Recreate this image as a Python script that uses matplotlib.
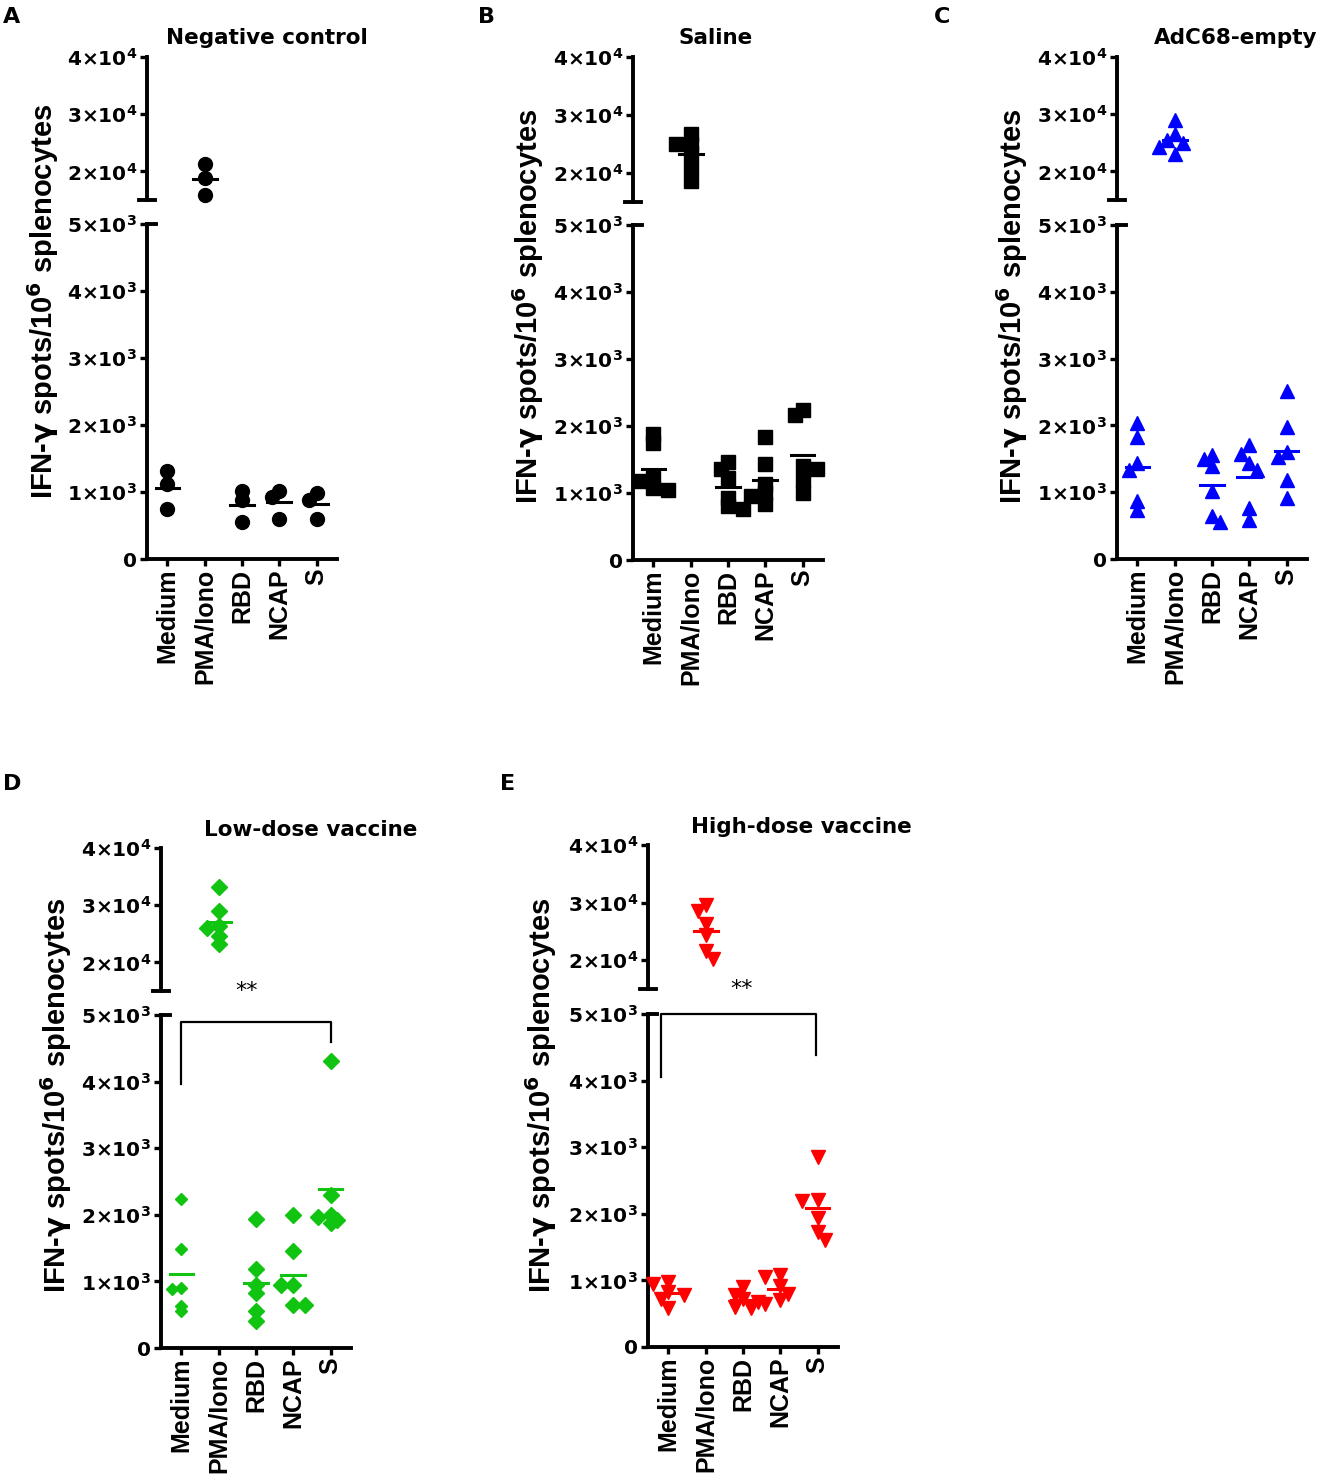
import numpy as np
import matplotlib
matplotlib.use("Agg")
import matplotlib.pyplot as plt
from matplotlib.lines import Line2D

plt.rcParams["mathtext.fontset"] = "dejavusans"
plt.rcParams["mathtext.default"] = "bf"

# Datos (spots / 10^6 esplenocitos)
categories = ["Medium", "PMA/Iono", "RBD", "NCAP", "S"]

neg_control = [[1310, 1120, 750],
               [21300, 18900, 15900],
               [1010, 880, 550],
               [1020, 920, 600],
               [980, 880, 600]]

saline = [[1880, 1750, 1220, 1180, 1080, 1050],
          [26700, 25000, 25000, 23500, 21000, 18700],
          [1460, 1360, 1220, 930, 800, 760],
          [1830, 1430, 1130, 1000, 950, 830],
          [2240, 2160, 1400, 1360, 1200, 1000]]

adc68_empty = [[2030, 1830, 1430, 1330, 870, 730],
               [28900, 26500, 25500, 25000, 24300, 23000],
               [1560, 1490, 1390, 1020, 650, 560],
               [1700, 1570, 1430, 1330, 760, 590],
               [2510, 1970, 1600, 1530, 1180, 910]]

low_dose = [[2230, 1480, 900, 890, 630, 550],
            [33200, 28900, 26400, 26000, 24600, 23200],
            [1940, 1190, 940, 830, 560, 400],
            [2000, 1460, 940, 940, 640, 640],
            [4310, 2300, 1990, 1960, 1920, 1870]]

high_dose = [[970, 950, 820, 780, 720, 580],
             [29500, 28500, 26300, 24400, 21600, 20200],
             [900, 780, 720, 680, 600, 580],
             [1080, 1050, 920, 800, 700, 650],
             [2860, 2210, 2190, 1940, 1720, 1600]]

# Figura en pixeles
W, H = 1320, 1482
fig = plt.figure(figsize=(W / 100, H / 100), dpi=100)


def fx(px):
    return px / W


def fy(py):
    return 1 - py / H


XLIM = (-0.55, 4.55)
AX_W = 190
PX_PER_CAT = AX_W / (XLIM[1] - XLIM[0])
BREAK = 15000


def swarm(vals, ppu, d):
    # desplazamientos en x tipo "beeswarm", alternando izquierda/derecha
    order = np.argsort(vals)[::-1]
    placed = []
    offs = np.zeros(len(vals))
    side = -1
    for i in order:
        yp = vals[i] * ppu
        xp = 0.0
        for k in [0, side, -side, 2 * side, -2 * side]:
            xp = k * 0.55 * d
            if all((xp - a) ** 2 + (yp - b) ** 2 >= (0.62 * d) ** 2 for a, b in placed):
                break
        if xp != 0:
            side = -side
        placed.append((xp, yp))
        offs[i] = xp / PX_PER_CAT
    return offs


def style_axis(ax):
    for s in ["top", "right"]:
        ax.spines[s].set_visible(False)
    ax.spines["left"].set_linewidth(2.8)
    ax.spines["bottom"].set_linewidth(2.8)
    ax.tick_params(axis="both", direction="out", length=5, width=2.4, pad=2)
    ax.set_xlim(*XLIM)


def panel(letter, title, groups, color, marker, ms, lay, ms_first=None, bracket=None):
    sp, top, brk, ltop, zero = lay["spine"], lay["top"], lay["brk"], lay["ltop"], lay["zero"]
    ax_t = fig.add_axes([fx(sp), fy(brk), AX_W / W, (brk - top) / H])
    ax_b = fig.add_axes([fx(sp), fy(zero), AX_W / W, (zero - ltop) / H])
    for ax in (ax_t, ax_b):
        style_axis(ax)
        ax.patch.set_alpha(0)
    ax_t.spines["bottom"].set_visible(False)
    ax_t.set_xticks([])
    ax_t.set_ylim(BREAK, 40000)
    ax_b.set_ylim(0, 5000)

    ax_t.set_yticks([20000, 30000, 40000])
    ax_t.set_yticklabels(["2×10$^{4}$", "3×10$^{4}$", "4×10$^{4}$"],
                         family="DejaVu Sans", fontweight="bold", fontsize=14.5)
    ax_b.set_yticks([0, 1000, 2000, 3000, 4000, 5000])
    ax_b.set_yticklabels(["0"] + ["%d×10$^{3}$" % k for k in range(1, 6)],
                         family="DejaVu Sans", fontweight="bold", fontsize=14.5)
    ax_b.set_xticks(range(len(categories)))
    ax_b.set_xticklabels(categories, rotation=90, family="Liberation Sans",
                         fontweight="bold", fontsize=18)

    ppu_t = (brk - top) / (40000 - BREAK)
    ppu_b = (zero - ltop) / 5000
    for i, g in enumerate(groups):
        vals = np.array(g, dtype=float)
        size = ms_first if (ms_first is not None and i == 0) else ms
        d = size * 1.39
        for ax, mask, ppu in ((ax_t, vals >= BREAK, ppu_t), (ax_b, vals < BREAK, ppu_b)):
            if mask.sum() == 0:
                continue
            v = vals[mask]
            offs = swarm(v, ppu, d)
            ax.plot(i + offs, v, ls="none", marker=marker, ms=size, color=color,
                    mec=color, clip_on=False, zorder=3)
        m = vals.mean()
        axm = ax_t if m >= BREAK else ax_b
        axm.plot([i - 0.32, i + 0.32], [m, m], color=color, lw=2.2,
                 clip_on=False, zorder=4)

    # marcas del corte del eje
    fig.add_artist(Line2D([fx(sp - 8), fx(sp + 8)], [fy(brk), fy(brk)], color="k", lw=2.8))
    fig.add_artist(Line2D([fx(sp), fx(sp + 9)], [fy(ltop), fy(ltop)], color="k", lw=2.8))

    if bracket is not None:
        x0, x1, ybar, yl, yr, sx, sy = bracket
        ax_b.plot([x0, x0, x1, x1], [yl, ybar, ybar, yr], color="k", lw=1.6,
                  clip_on=False)
        ax_b.text(sx, sy, "**", ha="center", va="center", fontsize=16,
                  family="DejaVu Sans", clip_on=False)

    fig.text(fx(lay["tx"]), fy(lay["ty"]), title, ha="center", va="center",
             family="DejaVu Sans", fontweight="bold", fontsize=15.5)
    fig.text(fx(lay["lx"]), fy(lay["ly"]), letter, ha="center", va="center",
             family="DejaVu Sans", fontweight="bold", fontsize=16)
    fig.text(fx(lay["yx"]), fy(lay["yy"]), "IFN-$\\gamma$ spots/10$^{6}$ splenocytes",
             rotation=90, ha="center", va="center", family="Liberation Sans",
             fontweight="bold", fontsize=21)


lay_a = dict(spine=147, top=57, brk=200, ltop=224, zero=559, tx=267, ty=38,
             lx=12, ly=17, yx=43, yy=301)
lay_b = dict(spine=633, top=57, brk=202, ltop=225, zero=560, tx=716, ty=38,
             lx=486, ly=17, yx=528, yy=306)
lay_c = dict(spine=1117, top=57, brk=200, ltop=225, zero=559, tx=1236, ty=38,
             lx=942, ly=17, yx=1012, yy=306)
lay_d = dict(spine=161, top=848, brk=991, ltop=1015, zero=1348, tx=311, ty=830,
             lx=12, ly=784, yx=56, yy=1095)
lay_e = dict(spine=648, top=845, brk=989, ltop=1014, zero=1347, tx=801, ty=827,
             lx=508, ly=784, yx=541, yy=1095)

panel("A", "Negative control", neg_control, "black", "o", 10, lay_a)
panel("B", "Saline", saline, "black", "s", 9.5, lay_b)
panel("C", "AdC68-empty", adc68_empty, "#0000ff", "^", 10.5, lay_c)
panel("D", "Low-dose vaccine", low_dose, "#11c411", "D", 8, lay_d, ms_first=6,
      bracket=(0, 4, 4900, 3970, 4600, 1.75, 5360))
panel("E", "High-dose vaccine", high_dose, "#ff0000", "v", 10, lay_e,
      bracket=(-0.2, 3.95, 5000, 4050, 4390, 1.95, 5380))

fig.savefig("out.png", dpi=100)
